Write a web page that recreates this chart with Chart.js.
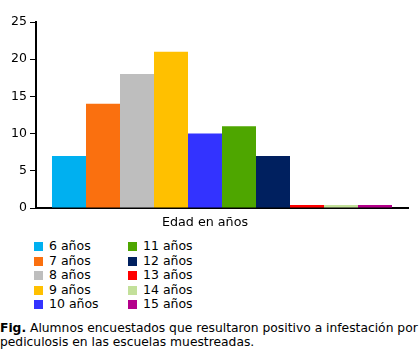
<!DOCTYPE html>
<html>
<head>
<meta charset="utf-8">
<script src="https://cdn.jsdelivr.net/npm/chart.js@4"></script>
<style>
  body { margin: 0; background: #fff; font-family: "DejaVu Sans", Verdana, sans-serif; }
  #wrap { position: relative; width: 420px; height: 364px; overflow: hidden; }
  #box { position: absolute; left: 0; top: 0; width: 420px; height: 232px; }
  #legend { position: absolute; left: 34px; top: 239px; font-size: 12.5px; }
  .item { position: absolute; white-space: nowrap; height: 14px; line-height: 14px; }
  .sw { display: inline-block; width: 9px; height: 9px; margin-right: 6px; vertical-align: -1px; }
  #caption { position: absolute; left: 0; top: 321px; width: 440px; font-size: 12.3px; line-height: 14px; }
</style>
</head>
<body>
<div id="wrap">
  <div id="box"><canvas id="myChart"></canvas></div>
  <div id="legend"></div>
  <div id="caption"><b>Fig.</b> Alumnos encuestados que resultaron positivo a infestación por<br>pediculosis en las escuelas muestreadas.</div>
</div>
<script>
categories = ['Edad en años'];
seriesNames = ['6 años', '7 años', '8 años', '9 años', '10 años', '11 años', '12 años', '13 años', '14 años', '15 años'];
seriesValues = [7, 14, 18, 21, 10, 11, 7, 0.4, 0.4, 0.4];
seriesColors = ['#00b0f0', '#fa700f', '#bebebe', '#ffc000', '#3333ff', '#4ea600', '#00205f', '#ff0000', '#c3e09a', '#b4008a'];
yTicks = [0, 5, 10, 15, 20, 25];

const datasets = seriesNames.map((name, i) => ({
    label: name,
    data: [seriesValues[i]],
    backgroundColor: seriesColors[i],
    borderWidth: 0,
    categoryPercentage: 0.914,
    barPercentage: 1
}));

const ctx = document.getElementById('myChart').getContext('2d');
const chart = new Chart(ctx, {
    type: 'bar',
    data: { labels: categories, datasets: datasets },
    options: {
        responsive: true,
        maintainAspectRatio: false,
        animation: false,
        layout: { padding: { top: 22, right: 12, left: 0, bottom: 0 } },
        scales: {
            x: {
                grid: { display: false, drawTicks: false },
                border: { color: '#000', width: 2 },
                ticks: {
                    color: '#000',
                    font: { family: 'DejaVu Sans', size: 12.7 },
                    padding: 7,
                    labelOffset: -17
                },
                afterFit: s => { s.height = 24; }
            },
            y: {
                min: 0,
                max: 25,
                afterBuildTicks: s => { s.ticks = yTicks.map(v => ({ value: v })); },
                grid: { display: true, drawOnChartArea: false, color: '#000', tickLength: 6, lineWidth: 1 },
                border: { color: '#000', width: 2 },
                ticks: {
                    color: '#000',
                    font: { family: 'DejaVu Sans', size: 12.5 },
                    padding: 3
                },
                afterFit: s => { s.width = 36; }
            }
        },
        plugins: {
            legend: { display: false },
            tooltip: { enabled: false }
        }
    }
});

// legend in two columns, five rows each
const legend = document.getElementById('legend');
seriesNames.forEach((name, i) => {
    const el = document.createElement('div');
    el.className = 'item';
    el.style.left = (i < 5 ? 0 : 94) + 'px';
    el.style.top = ((i % 5) * 14.5) + 'px';
    el.innerHTML = '<span class="sw" style="background:' + seriesColors[i] + '"></span>' + name;
    legend.appendChild(el);
});
</script>
</body>
</html>
